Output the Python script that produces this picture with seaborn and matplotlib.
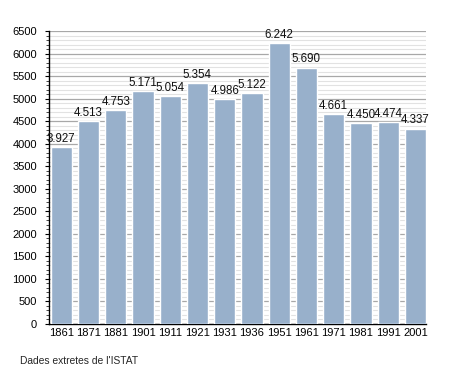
import matplotlib
matplotlib.use("Agg")
import matplotlib.pyplot as plt
import seaborn as sns
import pandas as pd
from matplotlib.ticker import MultipleLocator

years = ["1861", "1871", "1881", "1901", "1911", "1921", "1931", "1936",
         "1951", "1961", "1971", "1981", "1991", "2001"]
population = [3927, 4513, 4753, 5171, 5054, 5354, 4986, 5122,
              6242, 5690, 4661, 4450, 4474, 4337]
value_labels = ["3.927", "4.513", "4.753", "5.171", "5.054", "5.354", "4.986",
                "5.122", "6.242", "5.690", "4.661", "4.450", "4.474", "4.337"]
caption = "Dades extretes de l'ISTAT"

sns.set_style("white")
plt.rcParams['font.family'] = ['Liberation Sans', 'DejaVu Sans']

df = pd.DataFrame({"year": years, "pop": population})

fig = plt.figure(figsize=(4.55, 3.73), dpi=100)
ax = fig.add_axes([49/455, (373-324)/373, (426-49)/455, (324-31)/373])

sns.barplot(data=df, x="year", y="pop", order=years, color="#98b0cb",
            saturation=1, width=0.78, ax=ax, zorder=3)

ax.set_ylim(0, 6500)
ax.set_xlim(-0.45, len(years) - 1 + 0.39)
ax.yaxis.set_major_locator(MultipleLocator(500))
ax.yaxis.set_minor_locator(MultipleLocator(100))
ax.grid(which="major", axis="y", color="#a8a8a8", linewidth=0.9, zorder=0)
ax.grid(which="minor", axis="y", color="#e2e2e2", linewidth=0.8, zorder=0)
ax.grid(axis="x", visible=False)
ax.set_axisbelow(True)

for s in ["top", "right"]:
    ax.spines[s].set_visible(False)
ax.spines["left"].set_color("black")
ax.spines["bottom"].set_color("black")
ax.spines["left"].set_linewidth(1.0)
ax.spines["bottom"].set_linewidth(1.0)

ax.tick_params(axis="y", which="major", direction="out", length=3, width=0.8,
               labelsize=8, pad=5.5, left=True, colors="black")
ax.tick_params(axis="y", which="minor", direction="out", length=2, width=0.6, left=True)
ax.tick_params(axis="x", length=0, labelsize=8, pad=3, colors="black")
ax.set_xlabel("")
ax.set_ylabel("")

for i, (v, lab) in enumerate(zip(population, value_labels)):
    ax.text(i, v + 45, lab, ha="center", va="bottom", fontsize=8.3, color="#111111")

fig.text(20/455, 1 - 361/373, caption, ha="left", va="center", fontsize=7.4)

fig.savefig("out.png", dpi=100)
